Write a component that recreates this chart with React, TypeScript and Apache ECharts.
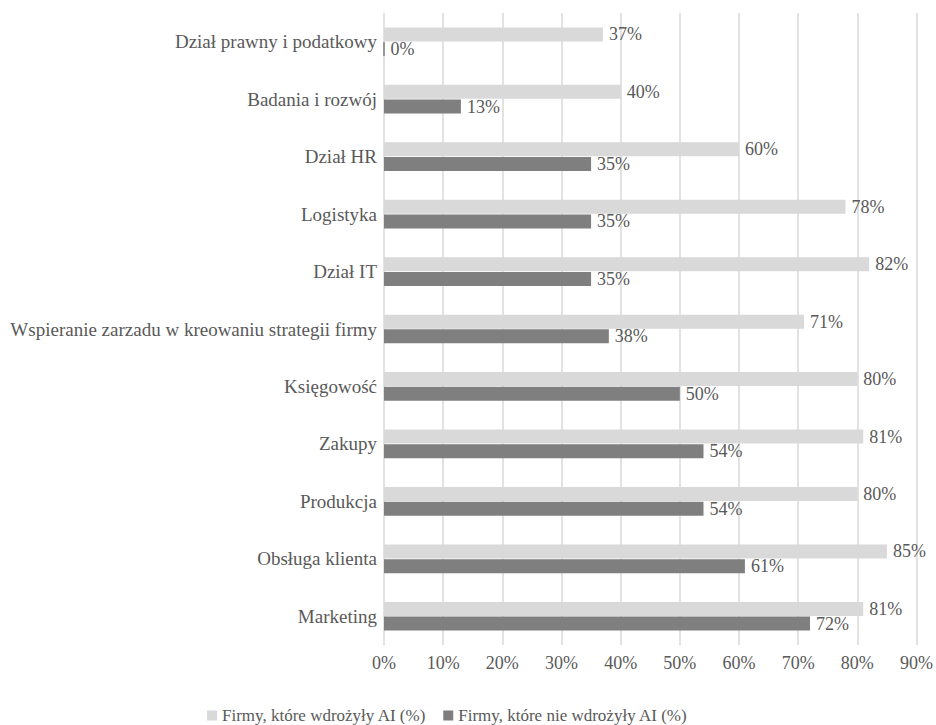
import React, { useEffect, useRef } from "react";
import * as echarts from "echarts";

const categories = [
  "Dział prawny i podatkowy",
  "Badania i rozwój",
  "Dział HR",
  "Logistyka",
  "Dział IT",
  "Wspieranie zarzadu w kreowaniu strategii firmy",
  "Księgowość",
  "Zakupy",
  "Produkcja",
  "Obsługa klienta",
  "Marketing",
];
const implemented = [37, 40, 60, 78, 82, 71, 80, 81, 80, 85, 81];
const notImplemented = [0, 13, 35, 35, 35, 38, 50, 54, 54, 61, 72];
const seriesNames = ["Firmy, które wdrożyły AI (%)", "Firmy, które nie wdrożyły AI (%)"];

const FONT = '"Liberation Serif", "Times New Roman", serif';
const TXT = "#595959";

export default function App() {
  const ref = useRef<HTMLDivElement>(null);
  useEffect(() => {
    if (!ref.current) return;
    const chart = echarts.init(ref.current, undefined, { renderer: "svg" });
    const label = {
      show: true,
      position: "right",
      distance: 6,
      formatter: "{c}%",
      color: TXT,
      fontFamily: FONT,
      fontSize: 18,
    };
    const darkColor = "#7f7f7f";
    const darkData = notImplemented.map((v) =>
      v === 0 ? { value: v, itemStyle: { borderColor: darkColor, borderWidth: 1 } } : v
    );
    chart.setOption({
      animation: false,
      backgroundColor: "#ffffff",
      grid: { left: 384, right: 19, top: 13, bottom: 80, containLabel: false },
      legend: {
        left: 202,
        top: 702,
        itemWidth: 10,
        itemHeight: 10,
        itemGap: 17,
        icon: "rect",
        textStyle: { color: TXT, fontFamily: FONT, fontSize: 17 },
        data: seriesNames,
      },
      xAxis: {
        type: "value",
        min: 0,
        max: 90,
        interval: 10,
        axisLine: { show: false },
        axisTick: { show: false },
        axisLabel: {
          formatter: "{value}%",
          color: TXT,
          fontFamily: FONT,
          fontSize: 18,
          margin: 9,
        },
        splitLine: { show: true, lineStyle: { color: "#d9d9d9", width: 1.5 } },
      },
      yAxis: {
        type: "category",
        inverse: true,
        data: categories,
        axisLine: { show: false },
        axisTick: { show: false },
        axisLabel: { color: TXT, fontFamily: FONT, fontSize: 19, margin: 7 },
      },
      series: [
        {
          name: seriesNames[0],
          type: "bar",
          data: implemented,
          barWidth: 14,
          barGap: "5%",
          itemStyle: { color: "#d9d9d9" },
          label,
        },
        {
          name: seriesNames[1],
          type: "bar",
          data: darkData,
          barWidth: 14,
          barGap: "5%",
          itemStyle: { color: darkColor },
          label,
        },
      ],
    });
    return () => chart.dispose();
  }, []);
  return (
    <div
      ref={ref}
      style={{ position: "fixed", left: 0, top: 0, width: 936, height: 725 }}
    />
  );
}
